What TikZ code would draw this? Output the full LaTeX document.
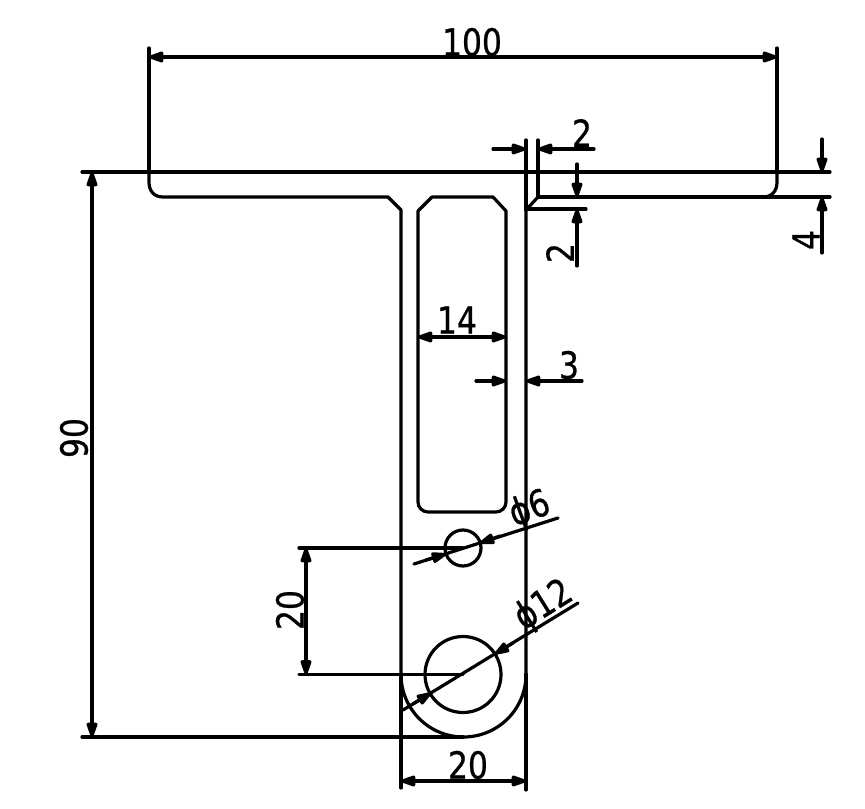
\documentclass[tikz,border=0pt]{standalone}
\usepackage{fontspec}
\setmainfont{DejaVu Sans}
\newfontfamily\dimfont[FakeStretch=0.84,FakeBold=0.7]{DejaVu Sans}
\usetikzlibrary{arrows.meta}
\tikzset{
  x=0.75pt,y=-0.75pt,
  part/.style={line width=2.4pt,line join=round,line cap=round},
  dimline/.style={line width=2.4pt,line cap=round},
  tipL/.style={-{Triangle[length=13.5pt,width=8.5pt,round]}},
  dimtext/.style={font=\dimfont\fontsize{28pt}{28pt}\selectfont,inner sep=0pt,text=black},
}
\begin{document}
\begin{tikzpicture}
\useasboundingbox (0,0) rectangle (865,809);
\fill[white] (0,0) rectangle (865,809);
% named reference points
\coordinate (c1) at (463,548); \coordinate (c2) at (463,674.5);
% outline
\draw[part] (82,172) -- (830,172);
\draw[part] (149,172) -- (149,182) .. controls (149,191) and (154,197) .. (163,197) -- (388,197) -- (401,210) -- (401,674.5)
  arc[start angle=180,end angle=0,radius=62.5] -- (526,210) -- (538,197) -- (763,197) .. controls (772,197) and (777,191) .. (777,182) -- (777,172);
% window
\draw[part] (432,197) -- (493,197) -- (506,211) -- (506,502) arc[start angle=0,end angle=90,radius=10] -- (428,512) arc[start angle=90,end angle=180,radius=10] -- (418,211) -- cycle;
% holes
\node[draw,circle,line width=2.4pt,minimum size=27pt,inner sep=0pt] (h1) at (c1) {};
\node[draw,circle,line width=2.4pt,minimum size=57pt,inner sep=0pt] (h2) at (c2) {};
% extension lines
\draw[dimline] (149,48) -- (149,172);
\draw[dimline] (777,48) -- (777,172);
\draw[dimline] (526,140) -- (526,210);
\draw[dimline] (538,140) -- (538,197);
\draw[dimline] (526,209) -- (586,209);
\draw[dimline] (538,197) -- (830,197);
\draw[dimline] (401,674) -- (401,788);
\draw[dimline] (526,674) -- (526,790);
\draw[dimline] (82,737) -- (463,737);
\draw[dimline] (299,548) -- (c1);
\draw[dimline] (299,674.5) -- (c2);
% 100
\draw[dimline,tipL] (463,57) -- (149,57);
\draw[dimline,tipL] (463,57) -- (777,57);
\node[dimtext] (t100) at (472,42) {100};
% 90
\draw[dimline,tipL] (92,450) -- (92,172);
\draw[dimline,tipL] (92,450) -- (92,737);
\node[dimtext,rotate=90] (t90) at (74,438) {90};
% 20 left
\draw[dimline,tipL] (306,610) -- (306,548);
\draw[dimline,tipL] (306,610) -- (306,674.5);
\node[dimtext,rotate=90] (t20a) at (290,610) {20};
% 20 bottom
\draw[dimline,tipL] (463,781) -- (401,781);
\draw[dimline,tipL] (463,781) -- (526,781);
\node[dimtext] (t20b) at (468,765) {20};
% 14
\draw[dimline,tipL] (462,337) -- (418,337);
\draw[dimline,tipL] (462,337) -- (506,337);
\node[dimtext] (t14) at (457,320) {14};
% 3
\draw[dimline,tipL] (476,381) -- (506,381);
\draw[dimline,tipL] (582,381) -- (526,381);
\node[dimtext] (t3) at (569,365) {3};
% 2 horizontal
\draw[dimline,tipL] (493,149) -- (526,149);
\draw[dimline,tipL] (594,149) -- (538,149);
\node[dimtext] (t2a) at (582,133) {2};
% 2 vertical
\draw[dimline,tipL] (577,164) -- (577,197);
\draw[dimline,tipL] (577,266) -- (577,209);
\node[dimtext,rotate=90] (t2b) at (560,253) {2};
% 4
\draw[dimline,tipL] (822,139) -- (822,172);
\draw[dimline,tipL] (822,253) -- (822,197);
\node[dimtext,rotate=90] (t4) at (806,240) {4};
% phi 6
\coordinate (p6a) at (414,564); \coordinate (p6b) at (558,518);
\draw[dimline] (p6a) -- (p6b);
\draw[dimline,tipL] (500,536) -- (480,543);
\draw[dimline,tipL] (426,560) -- (446,554);
\node[dimtext,rotate=20] (tp6) at (530,510) {ϕ6};
% phi 12
\coordinate (p12a) at (403,710); \coordinate (p12b) at (578,603);
\draw[dimline] (p12a) -- (p12b);
\draw[dimline,tipL] (513,643) -- (495,654);
\draw[dimline,tipL] (413,704) -- (431,693);
\node[dimtext,rotate=32] (tp12) at (544,606) {ϕ12};
\end{tikzpicture}
\end{document}
